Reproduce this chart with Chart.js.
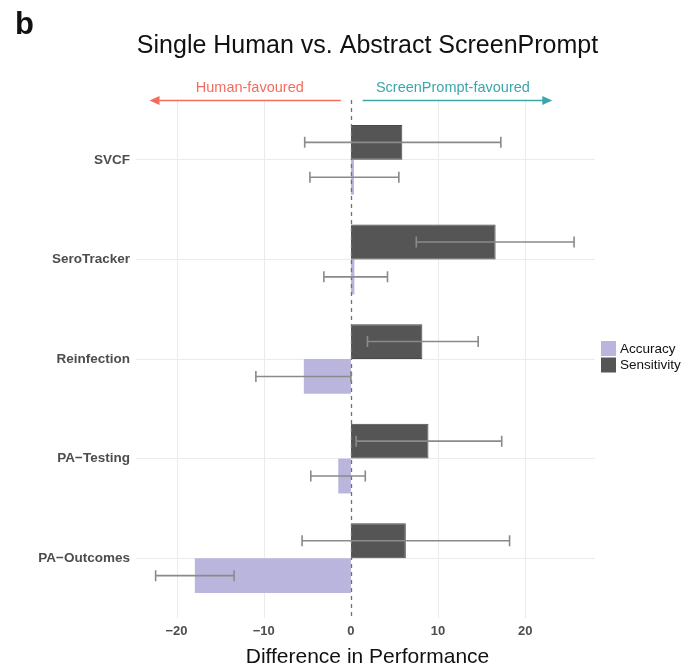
<!DOCTYPE html>
<html>
<head>
<meta charset="utf-8">
<title>Single Human vs. Abstract ScreenPrompt</title>
<script src="https://cdn.jsdelivr.net/npm/chart.js@4.4.1/dist/chart.umd.min.js"></script>
<style>
    html, body { margin: 0; padding: 0; background: #fff; }
    #wrap { width: 690px; height: 671px; }
</style>
</head>
<body>
<div id="wrap"><canvas id="chartDiff" width="690" height="671"></canvas></div>
<script>
/* ── Data ───────────────────────────────────────── */
const CATEGORIES = ['SVCF', 'SeroTracker', 'Reinfection', 'PA\u2212Testing', 'PA\u2212Outcomes'];

const SENSITIVITY      = [5.9, 16.6, 8.2, 8.9, 6.3];
const SENSITIVITY_LOW  = [-5.3, 7.5, 1.9, 0.6, -5.6];
const SENSITIVITY_HIGH = [17.2, 25.6, 14.6, 17.3, 18.2];

const ACCURACY      = [0.35, 0.4, -5.4, -1.45, -17.9];
const ACCURACY_LOW  = [-4.7, -3.1, -10.9, -4.6, -22.4];
const ACCURACY_HIGH = [5.5, 4.2, 0, 1.65, -13.4];

const X_TICKS = [-20, -10, 0, 10, 20];

// direction arrows, in data units along x
const ARROW_HUMAN  = { from: -1.15, to: -23.1, textAt: -11.6, text: 'Human-favoured', color: '#F26D5E' };
const ARROW_SCREEN = { from: 1.35, to: 23.1, textAt: 11.7, text: 'ScreenPrompt-favoured', color: '#3DA6A8' };

const COL_ACC  = '#BAB5DC';
const COL_SENS = '#545554';
const GRID_COL = '#EBEBEB';
const TEXT_COL = '#4D4D4D';
const FONT     = '"Liberation Sans", Arial, Helvetica, sans-serif';

/* ── Plugins ────────────────────────────────────── */
const extrasPlugin = {
    id: 'extras',
    beforeDatasetsDraw(chart) {
        const { ctx, chartArea: a, scales: { x } } = chart;
        ctx.save();
        ctx.strokeStyle = GRID_COL;
        ctx.lineWidth = 1;
        X_TICKS.forEach(v => {
            if (v === 0) return;
            const px = Math.round(x.getPixelForValue(v)) + 0.5;
            ctx.beginPath();
            ctx.moveTo(px, a.top - 10);
            ctx.lineTo(px, a.bottom + 10);
            ctx.stroke();
        });
        ctx.restore();
    },
    afterDatasetsDraw(chart) {
        const { ctx, chartArea: a, scales: { x } } = chart;
        ctx.save();

        // zero reference line
        const x0 = Math.round(x.getPixelForValue(0)) + 0.5;
        ctx.strokeStyle = '#707070';
        ctx.lineWidth = 1.3;
        ctx.setLineDash([4, 4]);
        ctx.beginPath();
        ctx.moveTo(x0, a.top - 10);
        ctx.lineTo(x0, a.bottom + 10);
        ctx.stroke();
        ctx.setLineDash([]);

        // error bars
        ctx.strokeStyle = '#8A8A8A';
        ctx.lineWidth = 1.6;
        const series = [
            [0, SENSITIVITY_LOW, SENSITIVITY_HIGH],
            [1, ACCURACY_LOW, ACCURACY_HIGH]
        ];
        series.forEach(([di, lo, hi]) => {
            const meta = chart.getDatasetMeta(di);
            meta.data.forEach((bar, i) => {
                const cy = bar.y;
                const x1 = x.getPixelForValue(lo[i]);
                const x2 = x.getPixelForValue(hi[i]);
                ctx.beginPath();
                ctx.moveTo(x1, cy); ctx.lineTo(x2, cy);
                ctx.moveTo(x1, cy - 5.5); ctx.lineTo(x1, cy + 5.5);
                ctx.moveTo(x2, cy - 5.5); ctx.lineTo(x2, cy + 5.5);
                ctx.stroke();
            });
        });
        ctx.restore();
    },
    afterDraw(chart) {
        const { ctx, chartArea: a, scales: { x } } = chart;
        const cx = (a.left + a.right) / 2;
        ctx.save();

        // panel letter
        ctx.fillStyle = '#111';
        ctx.font = `bold 31px ${FONT}`;
        ctx.textAlign = 'left';
        ctx.textBaseline = 'alphabetic';
        ctx.fillText('b', 15, 34);

        // title
        ctx.font = `25px ${FONT}`;
        ctx.textAlign = 'center';
        ctx.textBaseline = 'middle';
        ctx.fillText('Single Human vs. Abstract ScreenPrompt', cx + 2, 46);

        // axis title
        ctx.font = `21px ${FONT}`;
        ctx.fillText('Difference in Performance', cx + 2, 657);

        // direction arrows
        [ARROW_HUMAN, ARROW_SCREEN].forEach(ar => {
            const p1 = x.getPixelForValue(ar.from);
            const p2 = x.getPixelForValue(ar.to);
            const ay = 100.5;
            const dir = Math.sign(p2 - p1);
            ctx.strokeStyle = ar.color;
            ctx.fillStyle = ar.color;
            ctx.lineWidth = 1.5;
            ctx.beginPath();
            ctx.moveTo(p1, ay); ctx.lineTo(p2 - dir * 6, ay);
            ctx.stroke();
            ctx.beginPath();
            ctx.moveTo(p2, ay);
            ctx.lineTo(p2 - dir * 10, ay - 4.5);
            ctx.lineTo(p2 - dir * 10, ay + 4.5);
            ctx.closePath();
            ctx.fill();
            ctx.font = `14.5px ${FONT}`;
            ctx.textAlign = 'center';
            ctx.textBaseline = 'middle';
            ctx.fillText(ar.text, x.getPixelForValue(ar.textAt), 88);
        });

        // legend (Accuracy above Sensitivity)
        const items = [[chart.data.datasets[1].label, COL_ACC], [chart.data.datasets[0].label, COL_SENS]];
        ctx.font = `13.5px ${FONT}`;
        ctx.textAlign = 'left';
        items.forEach(([label, col], i) => {
            const top = 341 + i * 16.5;
            ctx.fillStyle = col;
            ctx.fillRect(601, top, 15, 15);
            ctx.fillStyle = '#111';
            ctx.fillText(label, 620, top + 8);
        });
        ctx.restore();
    }
};

/* ── Chart ──────────────────────────────────────── */
new Chart(document.getElementById('chartDiff').getContext('2d'), {
    type: 'bar',
    data: {
        labels: CATEGORIES,
        datasets: [
            {
                label: 'Sensitivity',
                data: SENSITIVITY,
                backgroundColor: COL_SENS,
                borderColor: '#474847',
                borderWidth: 1,
                categoryPercentage: 0.7,
                barPercentage: 1.0
            },
            {
                label: 'Accuracy',
                data: ACCURACY,
                backgroundColor: COL_ACC,
                borderWidth: 0,
                categoryPercentage: 0.7,
                barPercentage: 1.0
            }
        ]
    },
    options: {
        indexAxis: 'y',
        responsive: false,
        animation: false,
        layout: { padding: { top: 110, right: 95, bottom: 0, left: 0 } },
        plugins: {
            legend: { display: false },
            tooltip: { enabled: false }
        },
        scales: {
            x: {
                type: 'linear',
                min: -24.65,
                max: 28,
                afterBuildTicks: s => { s.ticks = X_TICKS.map(v => ({ value: v })); },
                afterFit: s => { s.height = 63; },
                grid: { display: false, drawTicks: false },
                border: { display: false },
                ticks: {
                    padding: 16,
                    color: TEXT_COL,
                    font: { family: FONT, size: 13, weight: 'bold' },
                    callback: v => (v < 0 ? '\u2212' + Math.abs(v) : String(v))
                }
            },
            y: {
                type: 'category',
                offset: true,
                afterFit: s => { s.width = 136; },
                grid: { color: GRID_COL, offset: false, drawTicks: false },
                border: { display: false },
                ticks: {
                    padding: 6,
                    color: TEXT_COL,
                    font: { family: FONT, size: 13.5, weight: 'bold' }
                }
            }
        }
    },
    plugins: [extrasPlugin]
});
</script>
</body>
</html>
